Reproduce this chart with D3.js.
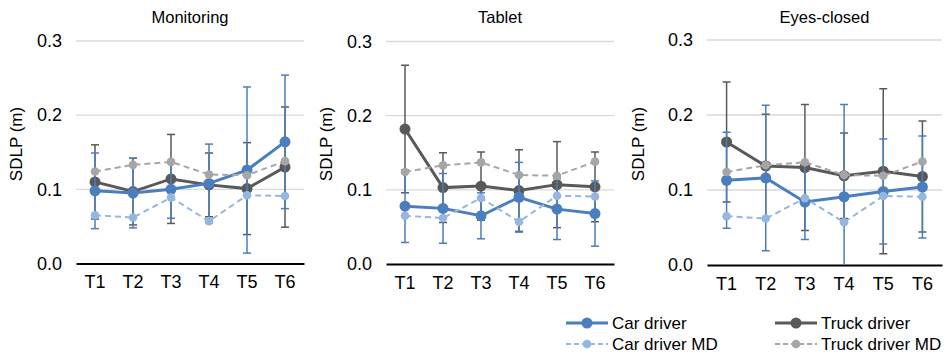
<!DOCTYPE html>
<html>
<head>
<meta charset="utf-8">
<style>
  body { margin: 0; background: #fff; }
  svg { font-family: "Liberation Sans", Arial, sans-serif; }
</style>
</head>
<body>
<div id="chart"></div>
<script src="https://d3js.org/d3.v7.min.js"></script>
<script>
// data
var trials = ["T1", "T2", "T3", "T4", "T5", "T6"]
var yTicks = [0, 0.1, 0.2, 0.3]
var conditions = ["Monitoring", "Tablet", "Eyes-closed"]

var carMD   = [0.065, 0.062, 0.089, 0.057, 0.092, 0.091]
var truckMD = [0.124, 0.133, 0.137, 0.120, 0.119, 0.138]

var monitoringCar     = [0.098, 0.095, 0.100, 0.108, 0.126, 0.164]
var monitoringCarSD   = [0.051, 0.047, 0.039, 0.053, 0.112, 0.090]
var monitoringTruck   = [0.110, 0.097, 0.114, 0.106, 0.101, 0.130]
var monitoringTruckSD = [0.050, 0.045, 0.060, 0.043, 0.062, 0.081]

var tabletCar     = [0.078, 0.075, 0.065, 0.090, 0.074, 0.068]
var tabletCarSD   = [0.049, 0.047, 0.031, 0.047, 0.041, 0.044]
var tabletTruck   = [0.182, 0.103, 0.105, 0.099, 0.107, 0.104]
var tabletTruckSD = [0.086, 0.047, 0.046, 0.055, 0.058, 0.047]

var eyesCar     = [0.113, 0.116, 0.084, 0.091, 0.098, 0.104]
var eyesCarSD   = [0.064, 0.097, 0.050, 0.123, 0.070, 0.068]
var eyesTruck   = [0.164, 0.132, 0.130, 0.119, 0.125, 0.118]
var eyesTruckSD = [0.080, 0.069, 0.084, 0.057, 0.110, 0.074]

var width = 949, height = 354

var blue = "#4a7ebf", lightBlue = "#95b6df", dark = "#595959", lightGray = "#a6a6a6"

var panels = [
  { title: conditions[0], car: monitoringCar, carSD: monitoringCarSD, truck: monitoringTruck, truckSD: monitoringTruckSD,
    x0: 76, x1: 304, yTop: 41, yBot: 263.5, labelX: 16 },
  { title: conditions[1], car: tabletCar, carSD: tabletCarSD, truck: tabletTruck, truckSD: tabletTruckSD,
    x0: 386, x1: 614, yTop: 41.5, yBot: 264, labelX: 326 },
  { title: conditions[2], car: eyesCar, carSD: eyesCarSD, truck: eyesTruck, truckSD: eyesTruckSD,
    x0: 707, x1: 942, yTop: 40, yBot: 265, labelX: 638 }
]

var svg = d3.select("#chart").append("svg")
  .attr("width", width)
  .attr("height", height)

panels.forEach(function(p) {
  var x = d3.scaleBand().domain(trials).range([p.x0, p.x1])
  var y = d3.scaleLinear().domain([0, 0.3]).range([p.yBot, p.yTop])
  var cx = function(i) { return x(trials[i]) + x.bandwidth() / 2 }

  var g = svg.append("g")

  // gridlines
  g.selectAll(".grid").data(yTicks.slice(1)).enter().append("line")
    .attr("x1", p.x0).attr("x2", p.x1)
    .attr("y1", function(d) { return y(d) }).attr("y2", function(d) { return y(d) })
    .attr("stroke", "#d9d9d9").attr("stroke-width", 1.3)

  // y axis labels
  var yAxis = d3.axisLeft(y).tickValues(yTicks).tickFormat(d3.format(".1f")).tickSize(0).tickPadding(14)
  var ya = g.append("g").attr("transform", "translate(" + p.x0 + ",0)").call(yAxis)
  ya.select(".domain").remove()
  ya.selectAll("text").style("font-size", "18px").attr("fill", "#000").attr("font-family", "Liberation Sans, Arial, sans-serif")

  // x axis
  var xAxis = d3.axisBottom(x).tickSize(0).tickPadding(12)
  var xa = g.append("g").attr("transform", "translate(0," + p.yBot + ")").call(xAxis)
  xa.select(".domain").attr("stroke", "#000").attr("stroke-width", 2.2)
  xa.selectAll("text").style("font-size", "18px").attr("fill", "#000").attr("font-family", "Liberation Sans, Arial, sans-serif")

  // title
  g.append("text").attr("x", (p.x0 + p.x1) / 2).attr("y", 23)
    .attr("text-anchor", "middle").style("font-size", "16.5px").text(p.title)

  // y label
  g.append("text")
    .attr("transform", "translate(" + (p.labelX + 6) + "," + 144 + ") rotate(-90)")
    .attr("text-anchor", "middle").style("font-size", "17px").text("SDLP (m)")

  var line = d3.line().x(function(d, i) { return cx(i) }).y(function(d) { return y(d) })

  var series = [
    { vals: p.truck, sd: p.truckSD, color: dark, w: 3, dash: null, r: 5.5 },
    { vals: p.car, sd: p.carSD, color: blue, w: 3, dash: null, r: 5.5 },
    { vals: carMD, sd: null, color: lightBlue, w: 2, dash: "6,4", r: 4.3 },
    { vals: truckMD, sd: null, color: lightGray, w: 2, dash: "6,4", r: 4.3 }
  ]

  series.forEach(function(s) {
    var sg = g.append("g")
    if (s.sd) {
      var bars = s.vals.map(function(d, i) { return { i: i, v: d, sd: s.sd[i] } })
      var eb = sg.selectAll(".eb").data(bars).enter().append("g")
      eb.append("line")
        .attr("x1", function(d) { return cx(d.i) }).attr("x2", function(d) { return cx(d.i) })
        .attr("y1", function(d) { return y(Math.max(0, d.v - d.sd)) })
        .attr("y2", function(d) { return y(d.v + d.sd) })
        .attr("stroke", s.color).attr("stroke-width", 1.5)
      eb.append("line")
        .attr("x1", function(d) { return cx(d.i) - 4 }).attr("x2", function(d) { return cx(d.i) + 4 })
        .attr("y1", function(d) { return y(d.v + d.sd) }).attr("y2", function(d) { return y(d.v + d.sd) })
        .attr("stroke", s.color).attr("stroke-width", 1.5)
      eb.filter(function(d) { return d.v - d.sd > 0 }).append("line")
        .attr("x1", function(d) { return cx(d.i) - 4 }).attr("x2", function(d) { return cx(d.i) + 4 })
        .attr("y1", function(d) { return y(d.v - d.sd) }).attr("y2", function(d) { return y(d.v - d.sd) })
        .attr("stroke", s.color).attr("stroke-width", 1.5)
    }
    sg.append("path").datum(s.vals).attr("d", line)
      .attr("fill", "none").attr("stroke", s.color).attr("stroke-width", s.w)
      .attr("stroke-dasharray", s.dash)
    sg.selectAll("circle").data(s.vals).enter().append("circle")
      .attr("cx", function(d, i) { return cx(i) }).attr("cy", function(d) { return y(d) })
      .attr("r", s.r).attr("fill", s.color)
  })
})

// legend
var legend = [
  { name: "Car driver", color: blue, w: 3, dash: null, r: 5.5, x: 566, y: 323 },
  { name: "Truck driver", color: dark, w: 3, dash: null, r: 5.5, x: 775, y: 323 },
  { name: "Car driver MD", color: lightBlue, w: 2, dash: "5,3", r: 4.3, x: 566, y: 344 },
  { name: "Truck driver MD", color: lightGray, w: 2, dash: "5,3", r: 4.3, x: 775, y: 344 }
]
var lg = svg.selectAll(".leg").data(legend).enter().append("g")
lg.append("line")
  .attr("x1", function(d) { return d.x }).attr("x2", function(d) { return d.x + 42 })
  .attr("y1", function(d) { return d.y }).attr("y2", function(d) { return d.y })
  .attr("stroke", function(d) { return d.color }).attr("stroke-width", function(d) { return d.w })
  .attr("stroke-dasharray", function(d) { return d.dash })
lg.append("circle")
  .attr("cx", function(d) { return d.x + 21 }).attr("cy", function(d) { return d.y })
  .attr("r", function(d) { return d.r }).attr("fill", function(d) { return d.color })
lg.append("text")
  .attr("x", function(d) { return d.x + 46 }).attr("y", function(d) { return d.y + 6 })
  .style("font-size", "17px").text(function(d) { return d.name })
</script>
</body>
</html>
